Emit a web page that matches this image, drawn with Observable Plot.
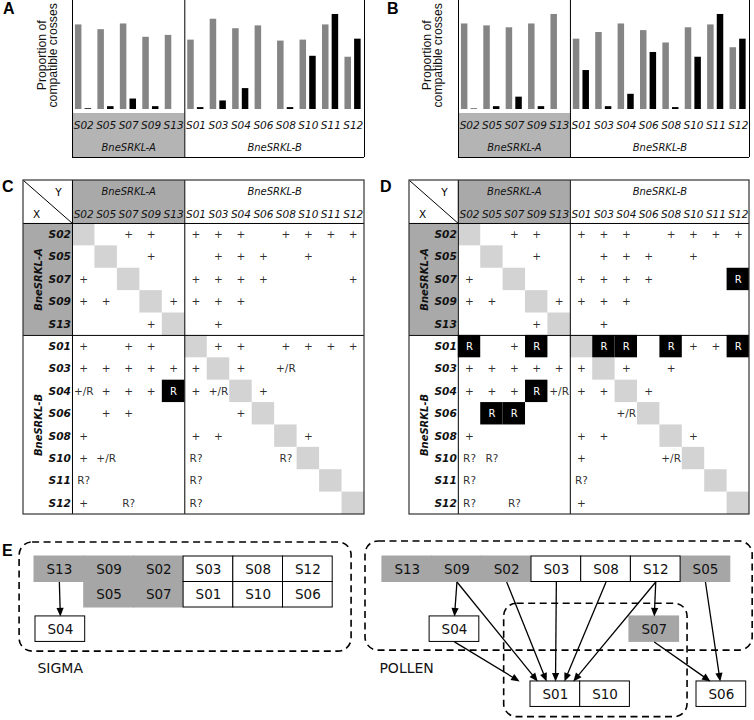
<!DOCTYPE html>
<html><head><meta charset="utf-8">
<script src="https://cdn.jsdelivr.net/npm/d3@7"></script>
<script src="https://cdn.jsdelivr.net/npm/@observablehq/plot@0.6"></script>
<style>
body{margin:0;background:#fff;}
#fig{position:relative;width:754px;height:720px;overflow:hidden;background:#fff;}
.plabel{position:absolute;font-family:"Liberation Sans",Arial,sans-serif;font-weight:bold;font-size:16px;line-height:1;color:#000;}
</style></head><body><div id="fig"></div>
<script>
// ---------------- DATA ----------------
const alleles = ["S02","S05","S07","S09","S13","S01","S03","S04","S06","S08","S10","S11","S12"];
const groupA = ["S02","S05","S07","S09","S13"];
const groupNames = ["BneSRKL-A","BneSRKL-B"];
const yLabel = "Proportion of\ncompatible crosses";
const panelLetters = ["A","B","C","D","E"];

// Panel A bars (grey / black), Panel B bars
const aGrey  = [0.89,0.84,0.90,0.76,0.78,0.73,0.95,0.85,0.88,0.72,0.73,0.89,0.55];
const aBlack = [0.008,0.03,0.11,0.03,0,0.02,0.09,0.22,0,0.02,0.56,1.00,0.74];
const bGrey  = [0.90,0.88,0.86,0.90,1.00,0.74,0.81,0.90,0.83,0.70,0.86,0.89,0.65];
const bBlack = [0.005,0.03,0.13,0.03,0,0.41,0.03,0.16,0.60,0.02,0.55,1.00,0.74];

// Panel C / D matrices: rows = X, columns = Y (order of alleles)
const cMatrix = [
  ["","","+","+","","+","+","+","","+","+","+","+"],
  ["","","","+","","","+","+","+","","+","",""],
  ["+","","","","","+","+","+","+","","","","+"],
  ["+","+","","","+","+","+","+","","","","",""],
  ["","","","+","","","+","","","","","",""],
  ["+","","+","+","","","+","+","","+","+","+","+"],
  ["+","+","+","+","+","+","","+","","+/R","","",""],
  ["+/R","+","+","+","R","+","+/R","","+","","","",""],
  ["","+","+","","","","","+","","","","",""],
  ["+","","","","","+","+","","","","+","",""],
  ["+","+/R","","","","R?","","","","R?","","",""],
  ["R?","","","","","R?","","","","","","",""],
  ["+","","R?","","","R?","","","","","","",""]
];
const dMatrix = [
  ["","","+","+","","+","+","+","","+","+","+","+"],
  ["","","","+","","","+","+","+","","+","",""],
  ["+","","","","","+","+","+","+","","","","R"],
  ["+","+","","","+","+","+","+","","","","",""],
  ["","","","+","","","+","","","","","",""],
  ["R","","+","R","","","R","R","","R","+","+","R"],
  ["+","+","+","+","+","+","","+","","+","","",""],
  ["+","+","+","R","+/R","+","+","","+","","","",""],
  ["","R","R","","","","","+/R","","","","",""],
  ["+","","","","","+","+","","","","+","",""],
  ["R?","R?","","","","+","","","","+/R","","",""],
  ["R?","","","","","R?","","","","","","",""],
  ["R?","","R?","","","+","","","","","","",""]
];

// Panel E diagram
const diagramLabels = ["SIGMA","POLLEN"];
const sigmaNodes = ["S13","S09","S02","S03","S08","S12","S05","S07","S01","S10","S06","S04"];
const sigmaEdges = [["S13","S04"]];
const pollenNodes = ["S13","S09","S02","S03","S08","S12","S05","S04","S07","S01","S10","S06"];
const pollenEdges = [["S09","S04"],["S04","S01"],["S09","S01"],["S02","S01"],["S03","S01"],["S08","S01"],["S12","S01"],["S12","S07"],["S07","S06"],["S05","S06"]];

// ---------------- LAYOUT ----------------
const fig = document.getElementById("fig");
const FONT = "DejaVu Sans, Verdana, sans-serif";
const BAR_GREY = "#858585", STRIP_GREY = "#b4b4b4", HEAD_GREY = "#a9a9a9", DIAG_GREY = "#d3d3d3", NODE_GREY = "#a6a6a6";
const nA = groupA.length, n = alleles.length;
const isA = s => groupA.includes(s);

function place(svg, left, top) {
  svg.style.position = "absolute";
  svg.style.left = left + "px";
  svg.style.top = top + "px";
  svg.style.overflow = "visible";
  fig.appendChild(svg);
}

function barPanel(grey, black, left, marginLeft, marginRight, labelDx) {
  const rows = alleles.map((s, i) => ({s, i, grey: grey[i], black: black[i]}));
  const yMin = -0.505, yMax = 1.147;
  const svg = Plot.plot({
    width: 377, height: 165, marginTop: 0, marginBottom: 8, marginLeft, marginRight,
    x: {type: "linear", domain: [0, n], axis: null},
    y: {type: "linear", domain: [yMin, yMax], axis: null},
    style: {background: "transparent", fontFamily: FONT, overflow: "visible"},
    marks: [
      Plot.rect([0], {x1: 0, x2: nA, y1: yMin, y2: -0.042, fill: STRIP_GREY}),
      Plot.rect(rows, {x1: d => d.i + 0.13, x2: d => d.i + 0.42, y1: 0, y2: "grey", fill: BAR_GREY}),
      Plot.rect(rows, {x1: d => d.i + 0.56, x2: d => d.i + 0.85, y1: 0, y2: "black", fill: "#000"}),
      Plot.text(rows, {x: d => d.i + 0.5, y: -0.168, text: "s", fontStyle: "italic", fontSize: 10.5, fill: "#111"}),
      Plot.text(groupNames, {x: (d, i) => i === 0 ? nA / 2 : (nA + n) / 2, y: -0.4, text: d => d, fontStyle: "italic", fontSize: 10, fill: "#111"}),
      Plot.ruleX([0, nA, n], {x: d => d, y1: yMin, y2: yMax, stroke: "#000", strokeWidth: 1}),
      Plot.ruleY([yMin], {y: d => d, x1: 0, x2: n, stroke: "#000", strokeWidth: 1.2}),
      Plot.text([yLabel], {x: 0, y: 0.57, dx: labelDx, rotate: -90, text: d => d, fontFamily: "Liberation Sans, Arial, sans-serif", fontSize: 12.2, lineHeight: 0.93, fill: "#111"})
    ]
  });
  place(svg, left, 0);
}

function matrixPanel(matrix, left, xRange) {
  const lx = -2.18, hy = -1.92;
  const cells = [];
  matrix.forEach((row, i) => row.forEach((v, j) => { if (v) cells.push({i, j, v}); }));
  const diag = alleles.map((s, i) => ({i}));
  const svg = Plot.plot({
    width: 377, height: 355, margin: 0,
    x: {type: "linear", domain: [lx, n], range: xRange, axis: null},
    y: {type: "linear", domain: [hy, n], range: [10, 344], axis: null},
    style: {background: "transparent", fontFamily: FONT, overflow: "visible"},
    marks: [
      Plot.rect([0], {x1: 0, x2: nA, y1: hy, y2: 0, fill: HEAD_GREY}),
      Plot.rect([0], {x1: lx, x2: 0, y1: 0, y2: nA, fill: HEAD_GREY}),
      Plot.rect(diag, {x1: d => d.i, x2: d => d.i + 1, y1: d => d.i, y2: d => d.i + 1, fill: DIAG_GREY}),
      Plot.rect(cells.filter(c => c.v === "R"), {x1: d => d.j, x2: d => d.j + 1, y1: d => d.i, y2: d => d.i + 1, fill: "#000"}),
      Plot.text(cells.filter(c => c.v !== "R"), {x: d => d.j + 0.5, y: d => d.i + 0.5, text: "v", fontSize: 10.5, fill: "#222", fillOpacity: 0.95}),
      Plot.text(cells.filter(c => c.v === "R"), {x: d => d.j + 0.5, y: d => d.i + 0.5, text: "v", fontSize: 10, fill: "#fff"}),
      Plot.text(alleles, {x: (d, i) => i + 0.5, y: -0.4, text: d => d, fontStyle: "italic", fontSize: 10.5, fill: "#111"}),
      Plot.text(alleles, {x: 0, dx: -1.5, y: (d, i) => i + 0.5, text: d => d, textAnchor: "end", fontStyle: "italic", fontWeight: "bold", fontSize: 10.6, fill: "#111"}),
      Plot.text(groupNames, {x: (d, i) => i === 0 ? nA / 2 : (nA + n) / 2, y: -1.4, text: d => d, fontStyle: "italic", fontSize: 10, fill: "#111"}),
      Plot.text(groupNames, {x: -1.5, y: (d, i) => i === 0 ? nA / 2 : (nA + n) / 2, text: d => d, rotate: -90, fontStyle: "italic", fontWeight: "bold", fontSize: 10, fill: "#111"}),
      Plot.text(["Y"], {x: -0.62, y: -1.4, text: d => d, fontSize: 10.5}),
      Plot.text(["X"], {x: -1.6, y: -0.4, text: d => d, fontSize: 10.5}),
      Plot.link([0], {x1: lx, y1: hy, x2: 0, y2: 0, stroke: "#000", strokeWidth: 1}),
      Plot.ruleX([0, nA], {x: d => d, y1: hy, y2: n, stroke: "#000", strokeWidth: 1}),
      Plot.ruleY([0, nA], {y: d => d, x1: lx, x2: n, stroke: "#000", strokeWidth: 1}),
      Plot.rect([0], {x1: lx, x2: n, y1: hy, y2: n, fill: "none", stroke: "#333", strokeWidth: 1.2})
    ]
  });
  place(svg, left, 170);
}

function diagramPanel() {
  const colW = 49.7, rowH = 25.5;
  const sigmaPos = {S13:[0,0],S09:[1,0],S02:[2,0],S03:[3,0],S08:[4,0],S12:[5,0],S05:[1,1],S07:[2,1],S01:[3,1],S10:[4,1],S06:[5,1],S04:[0.02,2.35]};
  const pollenPos = {S13:[7,0],S09:[8,0],S02:[9,0],S03:[10,0],S08:[11,0],S12:[12,0],S05:[13,0],S04:[7.95,2.35],S07:[11.97,2.35],S01:[9.98,4.9],S10:[10.98,4.9],S06:[13.32,4.9]};
  const aimDepth = {S01: 0.85, S06: 0.3};
  const boxes = [];
  const mk = (ids, pos, g) => ids.forEach(id => { const [c, r] = pos[id]; boxes.push({id, g, a: isA(id), x1: c, x2: c + 1, y1: r, y2: r + 1}); });
  mk(sigmaNodes, sigmaPos, "sigma");
  mk(pollenNodes, pollenPos, "pollen");
  const find = (g, id) => boxes.find(b => b.g === g && b.id === id);
  const shafts = [], heads = [];
  const addEdges = (edges, g) => edges.forEach(([s, t], k) => {
    const S = find(g, s), T = find(g, t);
    const sx = (S.x1 + S.x2) / 2, sy = S.y2;
    const tx = (T.x1 + T.x2) / 2, ty = T.y1 + (aimDepth[t] || 0);
    const f = (T.y1 - sy) / (ty - sy);
    const ex = sx + (tx - sx) * f, ey = T.y1;
    const px = (ex - sx) * colW, py = (ey - sy) * rowH, L = Math.hypot(px, py);
    const ux = px / L, uy = py / L, hl = 8.5, hw = 3.6;
    const bx = ex - ux * hl / colW, by = ey - uy * hl / rowH;
    const id = g + k;
    shafts.push({x1: sx, y1: sy, x2: ex - ux * (hl - 1) / colW, y2: ey - uy * (hl - 1) / rowH});
    heads.push({id, x: ex, y: ey});
    heads.push({id, x: bx - uy * hw / colW, y: by + ux * hw / rowH});
    heads.push({id, x: bx + uy * hw / colW, y: by - ux * hw / rowH});
  });
  addEdges(sigmaEdges, "sigma");
  addEdges(pollenEdges, "pollen");
  const dashed = [
    {x1: -0.30, x2: 6.38, y1: -0.55, y2: 3.73},
    {x1: 6.66, x2: 14.45, y1: -0.59, y2: 3.69},
    {x1: 9.45, x2: 13.14, y1: 1.85, y2: 6.30}
  ];
  const svg = Plot.plot({
    width: 754, height: 180, margin: 0,
    x: {type: "linear", domain: [-34 / colW, (754 - 34) / colW], range: [0, 754], axis: null},
    y: {type: "linear", domain: [-16 / rowH, (180 - 16) / rowH], range: [0, 180], axis: null},
    style: {background: "transparent", fontFamily: FONT, overflow: "visible"},
    marks: [
      Plot.rect(boxes.filter(b => b.a), {x1: "x1", x2: "x2", y1: "y1", y2: "y2", fill: NODE_GREY, inset: -0.5}),
      Plot.rect(boxes.filter(b => !b.a), {x1: "x1", x2: "x2", y1: "y1", y2: "y2", fill: "#fff", stroke: "#000", strokeWidth: 1}),
      Plot.rect(dashed, {x1: "x1", x2: "x2", y1: "y1", y2: "y2", fill: "none", stroke: "#000", strokeWidth: 1.6, strokeDasharray: "7,4.5", rx: 13}),
      Plot.link(shafts, {x1: "x1", y1: "y1", x2: "x2", y2: "y2", stroke: "#000", strokeWidth: 1.3}),
      Plot.line(heads, {x: "x", y: "y", z: "id", fill: "#000", stroke: "none", curve: "linear-closed"}),
      Plot.text(boxes, {x: d => (d.x1 + d.x2) / 2, y: d => (d.y1 + d.y2) / 2, text: "id", fontSize: 13.5, fill: "#111"}),
      Plot.text(diagramLabels, {x: (d, i) => i === 0 ? 0.06 : 6.94, y: 4.39, text: d => d, textAnchor: "start", fontSize: 14, fill: "#111"})
    ]
  });
  place(svg, 0, 540);
}

barPanel(aGrey, aBlack, 0, 72, 13, -24.5);
barPanel(bGrey, bBlack, 377, 81, 5, -25.5);
matrixPanel(cMatrix, 0, [23, 364]);
matrixPanel(dMatrix, 377, [32, 372]);
diagramPanel();

const letterPos = [[3, 1], [387, 1], [2, 179], [380, 179], [2, 543]];
panelLetters.forEach((L, i) => {
  const d = document.createElement("div");
  d.className = "plabel";
  d.textContent = L;
  d.style.left = letterPos[i][0] + "px";
  d.style.top = letterPos[i][1] + "px";
  fig.appendChild(d);
});
</script>
</body></html>
